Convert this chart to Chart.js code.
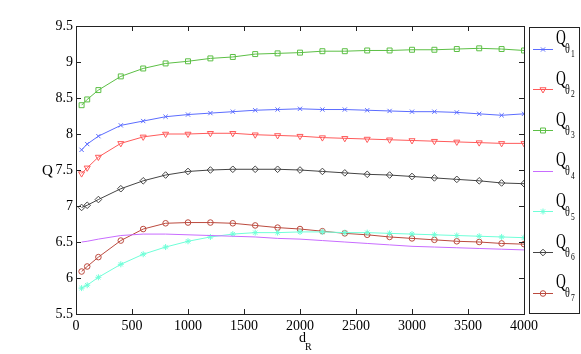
<!DOCTYPE html>
<html>
<head>
<meta charset="utf-8">
<script src="https://cdn.jsdelivr.net/npm/chart.js@4.4.0/dist/chart.umd.min.js"></script>
<style>
  html, body { margin: 0; padding: 0; background: #fff; }
  #wrap { position: relative; width: 581px; height: 354px; overflow: hidden; }
  canvas { position: absolute; left: 0; top: 0; }
  .t { position: absolute; font-family: "Liberation Serif", "Times New Roman", serif; color: #000; line-height: 1; white-space: nowrap; transform-origin: 0 0; }
</style>
</head>
<body>
<div id="wrap">
  <canvas id="c" width="581" height="354"></canvas>
  <div id="labels"></div>
</div>
<script>
// ---- data ----
const dR = [50, 100, 200, 400, 600, 800, 1000, 1200, 1400, 1600, 1800, 2000, 2200, 2400, 2600, 2800, 3000, 3200, 3400, 3600, 3800, 4000];
const q1 = [7.78, 7.86, 7.97, 8.12, 8.18, 8.24, 8.27, 8.29, 8.31, 8.33, 8.34, 8.35, 8.34, 8.34, 8.33, 8.32, 8.31, 8.31, 8.30, 8.28, 8.26, 8.28];
const q2 = [7.45, 7.53, 7.68, 7.87, 7.96, 8.00, 8.00, 8.01, 8.01, 7.99, 7.98, 7.97, 7.95, 7.94, 7.93, 7.92, 7.91, 7.90, 7.89, 7.88, 7.87, 7.87];
const q3 = [8.40, 8.48, 8.61, 8.80, 8.91, 8.98, 9.01, 9.05, 9.07, 9.11, 9.12, 9.13, 9.15, 9.15, 9.16, 9.16, 9.17, 9.17, 9.18, 9.19, 9.18, 9.16];
const q4 = [6.50, 6.51, 6.54, 6.59, 6.61, 6.61, 6.60, 6.59, 6.58, 6.57, 6.55, 6.54, 6.52, 6.50, 6.48, 6.46, 6.44, 6.43, 6.42, 6.41, 6.40, 6.39];
const q5 = [5.86, 5.90, 6.01, 6.19, 6.33, 6.43, 6.51, 6.57, 6.61, 6.63, 6.63, 6.64, 6.64, 6.63, 6.63, 6.62, 6.61, 6.60, 6.59, 6.58, 6.57, 6.56];
const q6 = [6.98, 7.01, 7.09, 7.24, 7.35, 7.43, 7.48, 7.50, 7.51, 7.51, 7.51, 7.50, 7.48, 7.46, 7.44, 7.43, 7.41, 7.39, 7.37, 7.35, 7.32, 7.31];
const q7 = [6.09, 6.16, 6.29, 6.52, 6.68, 6.76, 6.77, 6.77, 6.76, 6.73, 6.70, 6.68, 6.65, 6.62, 6.60, 6.57, 6.55, 6.53, 6.51, 6.50, 6.48, 6.47];
const seriesNames = ["1", "2", "3", "4", "5", "6", "7"];
const yTicks = [5.5, 6, 6.5, 7, 7.5, 8, 8.5, 9, 9.5];
const yTickLabels = ["5.5", "6", "6.5", "7", "7.5", "8", "8.5", "9", "9.5"];
const xTicks = [0, 500, 1000, 1500, 2000, 2500, 3000, 3500, 4000];
const xTickLabels = ["0", "500", "1000", "1500", "2000", "2500", "3000", "3500", "4000"];

// ---- styles ----
const styles = [
  { color: "#5b6cff", pointStyle: "crossRot", radius: 3, rotation: 0 },
  { color: "#ff5a5a", pointStyle: "triangle", radius: 3.5, rotation: 180 },
  { color: "#5cbf45", pointStyle: "rect", radius: 3.5, rotation: 0 },
  { color: "#c86cff", pointStyle: false, radius: 0, rotation: 0 },
  { color: "#6fffd8", pointStyle: "star", radius: 3, rotation: 0 },
  { color: "#444444", pointStyle: "rectRot", radius: 3.3, rotation: 0 },
  { color: "#bb4a3e", pointStyle: "circle", radius: 2.8, rotation: 0 }
];
const allSeries = [q1, q2, q3, q4, q5, q6, q7];

const datasets = allSeries.map((s, i) => ({
  label: "Q" + seriesNames[i],
  data: dR.map((x, k) => ({ x: x, y: s[k] })),
  borderColor: styles[i].color,
  backgroundColor: "rgba(0,0,0,0)",
  borderWidth: 1,
  pointStyle: styles[i].pointStyle,
  pointRadius: styles[i].radius,
  pointRotation: styles[i].rotation,
  pointBorderColor: styles[i].color,
  pointBackgroundColor: "rgba(0,0,0,0)",
  pointBorderWidth: 1,
  tension: 0,
  fill: false
}));

const LEG = { left: 529, right: 579, top: 27, bottom: 313, y0: 48.7, dy: 40.67 };

const framePlugin = {
  id: "frame",
  afterDatasetsDraw(chart) {
    const { ctx, chartArea: a, scales: { x, y } } = chart;
    ctx.save();
    ctx.strokeStyle = "#222";
    ctx.lineWidth = 1;
    ctx.beginPath();
    x.ticks.forEach(t => {
      const px = Math.round(x.getPixelForValue(t.value)) + 0.5;
      ctx.moveTo(px, a.bottom); ctx.lineTo(px, a.bottom - 5);
      ctx.moveTo(px, a.top); ctx.lineTo(px, a.top + 5);
    });
    y.ticks.forEach(t => {
      const py = Math.round(y.getPixelForValue(t.value)) + 0.5;
      ctx.moveTo(a.left, py); ctx.lineTo(a.left + 5, py);
      ctx.moveTo(a.right, py); ctx.lineTo(a.right - 5, py);
    });
    ctx.stroke();
    ctx.strokeRect(Math.round(a.left) + 0.5, Math.round(a.top) + 0.5,
                   Math.round(a.right - a.left), Math.round(a.bottom - a.top));
    // legend box
    ctx.strokeRect(LEG.left + 0.5, LEG.top + 0.5, LEG.right - LEG.left, LEG.bottom - LEG.top);
    chart.data.datasets.forEach((ds, i) => {
      const ly = LEG.y0 + i * LEG.dy;
      ctx.strokeStyle = ds.borderColor;
      ctx.beginPath();
      ctx.moveTo(533, Math.round(ly) + 0.5);
      ctx.lineTo(553, Math.round(ly) + 0.5);
      ctx.stroke();
      if (ds.pointStyle) {
        ctx.fillStyle = "rgba(0,0,0,0)";
        ctx.lineWidth = 1;
        Chart.helpers.drawPoint(ctx, {
          pointStyle: ds.pointStyle, radius: ds.pointRadius,
          rotation: ds.pointRotation, borderWidth: 1
        }, 543, Math.round(ly) + 0.5);
      }
    });
    ctx.restore();
  }
};

Chart.defaults.font.family = "Liberation Serif";
const tickFont = { family: "Liberation Serif", size: 14 };

new Chart(document.getElementById("c"), {
  type: "line",
  data: { datasets: datasets },
  options: {
    responsive: false,
    animation: false,
    layout: { padding: { left: 0, top: 26, right: 57, bottom: 0 } },
    plugins: { legend: { display: false }, tooltip: { enabled: false } },
    scales: {
      x: {
        type: "linear", min: 0, max: 4000,
        afterFit(s) { s.height = 40; },
        afterBuildTicks(s) { s.ticks = xTicks.map(v => ({ value: v })); },
        ticks: { font: tickFont, color: "#000", padding: 4, maxRotation: 0, autoSkip: false,
                 callback: v => xTickLabels[xTicks.indexOf(v)] },
        grid: { display: false, drawTicks: false },
        border: { display: false }
      },
      y: {
        type: "linear", min: 5.5, max: 9.5,
        afterFit(s) { s.width = 76; },
        afterBuildTicks(s) { s.ticks = yTicks.map(v => ({ value: v })); },
        ticks: { font: tickFont, color: "#000", padding: 3, autoSkip: false,
                 callback: v => yTickLabels[yTicks.indexOf(v)] },
        grid: { display: false, drawTicks: false },
        border: { display: false }
      }
    }
  },
  plugins: [framePlugin]
});

// ---- HTML text: axis titles and legend labels ----
const labels = document.getElementById("labels");
function put(text, left, baseline, size, sx) {
  const d = document.createElement("div");
  d.className = "t";
  d.style.fontSize = size + "px";
  d.style.left = left + "px";
  d.style.top = (baseline - 0.8375 * size) + "px";
  if (sx) d.style.transform = "scaleX(" + sx + ")";
  d.textContent = text;
  labels.appendChild(d);
}
put("Q", 42, 175.5, 15);
put("d", 299, 343, 14);
put("R", 305, 350, 10);
seriesNames.forEach((n, i) => {
  const ly = LEG.y0 + i * LEG.dy;
  put("Q", 555.5, ly - 4.5, 20, 0.68);
  put("\u03B8", 565, ly + 5.5, 14, 0.72);
  put(n, 571, ly + 8.5, 10, 0.75);
});
</script>
</body>
</html>
